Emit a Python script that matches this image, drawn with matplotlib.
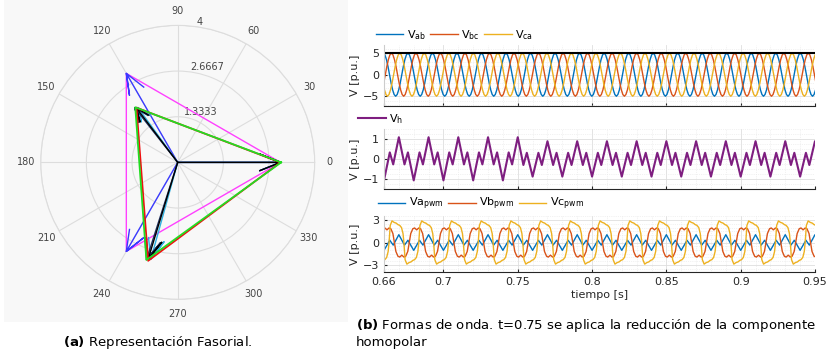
import numpy as np
import matplotlib.pyplot as plt
from matplotlib.patches import Rectangle
from matplotlib.ticker import MultipleLocator, FormatStrFormatter

# ---------------- data ----------------
# phasors (magnitude, angle deg)
bal_mag = [3.0, 3.0, 3.0]
bal_ang = [0.0, 120.0, 240.0]
unb_mag = [3.0, 2.01, 2.96]
unb_ang = [0.0, 127.2, 253.0]
cyan_mag = [3.0, 1.98, 2.93]
cyan_ang = [0.0, 126.0, 254.5]
navy_mag = [3.0, 2.03, 2.98]
navy_ang = [0.0, 128.2, 252.2]
red_tri_mag = [3.0, 2.0, 3.0]
red_tri_ang = [0.0, 127.0, 253.3]
grn_tri_mag = [3.02, 2.03, 2.99]
grn_tri_ang = [0.0, 127.6, 252.2]
theta_ticks = [0, 30, 60, 90, 120, 150, 180, 210, 240, 270, 300, 330]
r_ticks = [1.3333, 2.6667, 4]

# time window
t_start, t_end, t_change = 0.66, 0.95, 0.75

# line voltages: one cycle (starting at a peak)
vll_period = 0.0165
vll_cycle = [5, 4.6, 3.5, 1.9, 0, -1.9, -3.5, -4.6, -5, -4.6, -3.5, -1.9, 0, 1.9, 3.5, 4.6]
vab_peak, vbc_peak, vca_peak = 0.6761, 0.6650, 0.6706
vll_ref = 5.1

# homopolar voltage: waypoints of one cycle (from a trough)
vh_period = 0.02
vh_first = 0.66
vh_phase = [0.0, 0.195, 0.31, 0.5, 0.69, 0.805]
vh_pre = [-1.07, 0.33, -0.27, 1.09, -0.27, 0.33]
vh_post = [-0.88, 0.31, -0.30, 0.89, -0.30, 0.31]

# pwm phase voltages
pwm_period = 0.02
va_first = 0.66
va_phase = [0.0, 0.195, 0.31, 0.5, 0.69, 0.805]
va_vals = [-1.05, 0.3, -0.35, 1.05, -0.35, 0.3]
vb_first = 0.662
vb_phase = [0, 0.07, 0.13, 0.2, 0.25, 0.3, 0.37, 0.43, 0.5, 0.57, 0.63, 0.7, 0.75, 0.8, 0.87, 0.93]
vb_vals = [1.7, 1.95, 1.85, 1.2, 0, -1.2, -1.85, -1.95, -1.7, -1.95, -1.85, -1.2, 0, 1.2, 1.85, 1.95]
vc_first = 0.6634
vc_phase = [0, 0.04, 0.1, 0.17, 0.24, 0.3, 0.36, 0.42, 0.47, 0.5, 0.54, 0.6, 0.67, 0.74, 0.8, 0.86, 0.92, 0.97]
vc_vals = [0, 2.3, 2.9, 2.7, 2.6, 2.4, 2.3, 2.0, 1.2, 0, -2.3, -2.9, -2.7, -2.6, -2.4, -2.3, -2.0, -1.2]

xticks = [0.66, 0.7, 0.75, 0.8, 0.85, 0.9, 0.95]


def repeat_cycle(first, period, phase, vals, vals_after=None):
    # lay the one-cycle waypoints out over the whole window
    phase = np.asarray(phase)
    k0 = int(np.floor((t_start - first) / period)) - 1
    k1 = int(np.ceil((t_end - first) / period)) + 1
    t, v = [], []
    for k in range(k0, k1 + 1):
        tt = first + (k + phase) * period
        t.extend(tt)
        if vals_after is None:
            v.extend(vals)
        else:
            v.extend(np.where(tt <= t_change + 1e-9, vals, vals_after))
    return np.array(t), np.array(v)


def sine_cycle(peak, period, cycle):
    ph = np.arange(len(cycle)) / len(cycle)
    return repeat_cycle(peak, period, ph, cycle)


def arrows(ax, mags, angs, **kw):
    for m, a in zip(mags, angs):
        z = m * np.exp(1j * np.deg2rad(a))
        pts = z * np.array([0, 1, 0.8 + 0.08j, 1, 0.8 - 0.08j])
        ax.plot(np.angle(pts), np.abs(pts), **kw)


def triangle(ax, mags, angs, **kw):
    z = np.array(mags) * np.exp(1j * np.deg2rad(angs))
    z = np.append(z, z[0])
    ax.plot(np.angle(z), np.abs(z), **kw)


plt.rcParams['font.family'] = ['DejaVu Sans']
plt.rcParams['mathtext.fontset'] = 'dejavusans'

fig = plt.figure(figsize=(8.29, 3.56), dpi=100)

# gray background of the phasor figure
fig.patches.append(Rectangle((0.005, 0.095), 0.415, 0.905, transform=fig.transFigure,
                             facecolor='#f8f8f8', edgecolor='none', zorder=-5))

# ---------------- polar (a) ----------------
axp = fig.add_axes([0.0491, 0.159, 0.3305, 0.7697], projection='polar')
axp.set_facecolor('none')
axp.set_ylim(0, 4)
axp.set_yticks(r_ticks)
axp.set_yticklabels(['1.3333', '2.6667', '4'])
axp.set_rlabel_position(82)
axp.set_thetagrids(theta_ticks, labels=[str(a) for a in theta_ticks])
axp.grid(color='#dddddd', linewidth=0.8)
axp.spines['polar'].set_color('#dddddd')
axp.tick_params(axis='x', labelsize=7, colors='#444444', pad=0)
axp.tick_params(axis='y', labelsize=7, colors='#444444')

triangle(axp, bal_mag, bal_ang, color='#ff40ff', lw=1.0)
arrows(axp, bal_mag, bal_ang, color='#3a3aff', lw=1.0)
arrows(axp, cyan_mag, cyan_ang, color='#30b0e0', lw=1.0)
arrows(axp, navy_mag, navy_ang, color='#203060', lw=1.0)
arrows(axp, unb_mag, unb_ang, color='black', lw=1.0)
triangle(axp, red_tri_mag, red_tri_ang, color='#ee1010', lw=1.3)
triangle(axp, grn_tri_mag, grn_tri_ang, color='#22dd22', lw=1.3)

# ---------------- waveforms (b) ----------------
c_blue, c_red, c_yel, c_pur = '#0072bd', '#d95319', '#edb120', '#7e1e80'
tick_col = '#262626'

ax1 = fig.add_axes([0.4632, 0.7031, 0.5199, 0.1705])
ax2 = fig.add_axes([0.4632, 0.4691, 0.5199, 0.1685])
ax3 = fig.add_axes([0.4632, 0.2351, 0.5199, 0.1590])

t, v = sine_cycle(vab_peak, vll_period, vll_cycle)
l1, = ax1.plot(t, v, color=c_blue, lw=1.0)
t, v = sine_cycle(vbc_peak, vll_period, vll_cycle)
l2, = ax1.plot(t, v, color=c_red, lw=1.0)
t, v = sine_cycle(vca_peak, vll_period, vll_cycle)
l3, = ax1.plot(t, v, color=c_yel, lw=1.0)
ax1.axhline(vll_ref, color='black', lw=1.5)
ax1.set_ylim(-7.2, 6.9)
ax1.set_yticks([-5, 0, 5])
ax1.yaxis.set_minor_locator(MultipleLocator(1))
ax1.legend([l1, l2, l3], [r'V$_{\rm ab}$', r'V$_{\rm bc}$', r'V$_{\rm ca}$'], loc='lower left',
           bbox_to_anchor=(-0.03, 0.98), ncol=3, frameon=False, fontsize=8,
           handlelength=2.5, handletextpad=0.3, columnspacing=0.4, borderaxespad=0)

t, v = repeat_cycle(vh_first, vh_period, vh_phase, vh_pre, vh_post)
lh, = ax2.plot(t, v, color=c_pur, lw=1.5)
ax2.set_ylim(-1.5, 1.5)
ax2.set_yticks([-1, 0, 1])
ax2.yaxis.set_minor_locator(MultipleLocator(0.25))
ax2.legend([lh], [r'V$_{\rm h}$'], loc='lower left', bbox_to_anchor=(-0.07, 0.98),
           frameon=False, fontsize=8, handlelength=2.5, handletextpad=0.3, borderaxespad=0)

t, v = repeat_cycle(va_first, pwm_period, va_phase, va_vals)
la, = ax3.plot(t, v, color=c_blue, lw=1.0)
t, v = repeat_cycle(vb_first, pwm_period, vb_phase, vb_vals)
lb, = ax3.plot(t, v, color=c_red, lw=1.0)
t, v = repeat_cycle(vc_first, pwm_period, vc_phase, vc_vals)
lc, = ax3.plot(t, v, color=c_yel, lw=1.0)
ax3.set_ylim(-4, 3.6)
ax3.set_yticks([-3, 0, 3])
ax3.yaxis.set_minor_locator(MultipleLocator(0.5))
ax3.legend([la, lb, lc], [r'Va$_{\rm pwm}$', r'Vb$_{\rm pwm}$', r'Vc$_{\rm pwm}$'], loc='lower left',
           bbox_to_anchor=(-0.025, 0.98), ncol=3, frameon=False, fontsize=8,
           handlelength=2.5, handletextpad=0.3, columnspacing=0.4, borderaxespad=0)
ax3.set_xlabel('tiempo [s]', fontsize=8, color=tick_col, labelpad=2)

for ax in (ax1, ax2, ax3):
    ax.set_xlim(t_start, t_end)
    ax.set_xticks(xticks)
    ax.xaxis.set_major_formatter(FormatStrFormatter('%g'))
    ax.xaxis.set_minor_locator(MultipleLocator(0.01))
    ax.grid(True, which='major', color='#dedede', lw=0.6)
    ax.grid(True, which='minor', color='#e6e6e6', lw=0.5, ls=':')
    ax.set_axisbelow(True)
    ax.set_ylabel('V [p.u.]', fontsize=8, color=tick_col, labelpad=2)
    for s in ('top', 'right'):
        ax.spines[s].set_visible(False)
    ax.spines['left'].set_color('#cccccc')
    ax.spines['bottom'].set_color(tick_col)
    ax.tick_params(which='both', direction='in', labelsize=8, colors=tick_col, length=2.5)
    ax.tick_params(which='minor', length=0)
ax1.tick_params(labelbottom=False)
ax2.tick_params(labelbottom=False)

# ---------------- captions ----------------
fig.text(0.19, 0.027, r'$\bf{(a)}$ Representación Fasorial.', ha='center', va='baseline',
         fontsize=9.5)
fig.text(0.4295, 0.077, r'$\bf{(b)}$ Formas de onda. t=0.75 se aplica la reducción de la componente',
         ha='left', va='baseline', fontsize=9.5)
fig.text(0.4295, 0.027, 'homopolar', ha='left', va='baseline', fontsize=9.5)

fig.savefig('out.png', dpi=100)
